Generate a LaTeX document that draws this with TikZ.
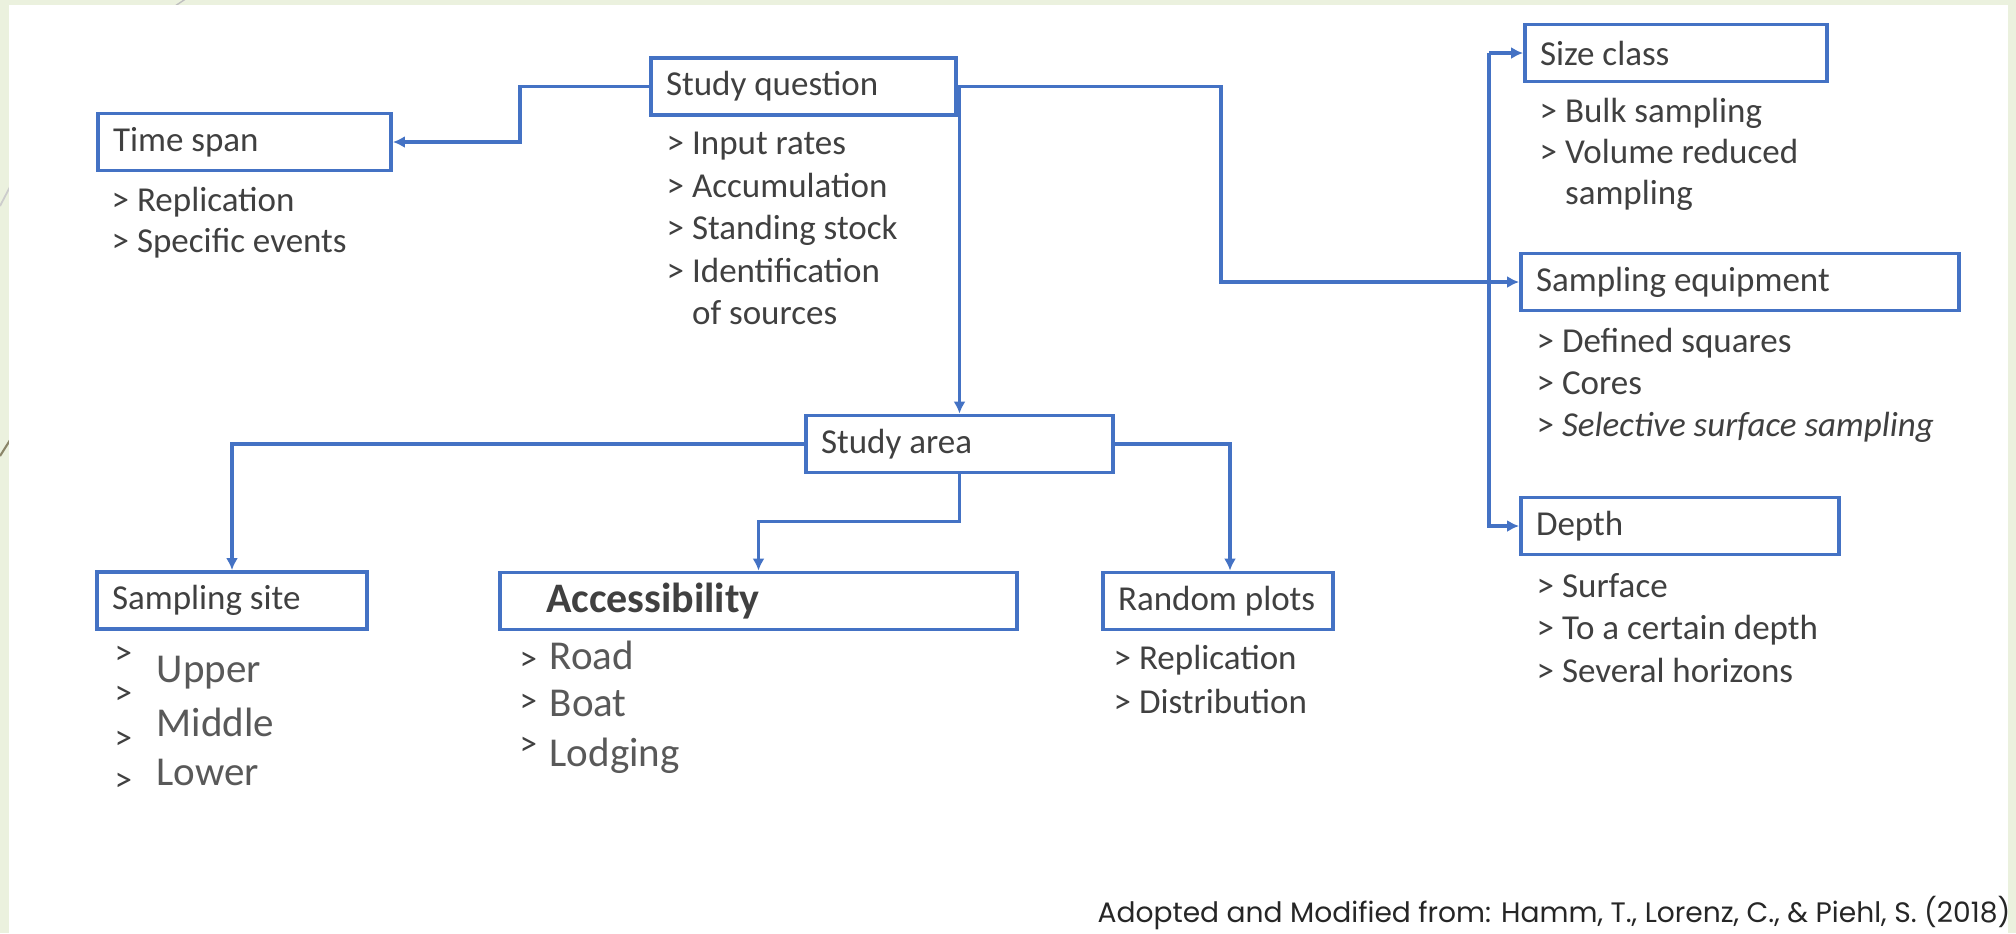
\documentclass[tikz,border=0pt]{standalone}
\usepackage{fontspec}
\setmainfont{Carlito}
\newfontfamily\citefont{Poppins}
\usetikzlibrary{arrows.meta}
\definecolor{lineblue}{HTML}{4472C4}
\definecolor{boxtext}{HTML}{404040}
\definecolor{wordgrey}{HTML}{595959}
\definecolor{slidegreen}{HTML}{EBF1DE}
\definecolor{slideline}{HTML}{8A8568}
\tikzset{>={Latex[length=3.4pt,width=3.4pt]}}
\tikzstyle{box}=[rectangle,draw=lineblue,line width=1.1pt,minimum height=5.7mm,inner xsep=1.5mm,inner ysep=0pt,text=boxtext,font=\fontsize{9.96pt}{12pt}\selectfont]
\tikzstyle{items}=[anchor=west,inner sep=0pt,text=boxtext,align=left]
\tikzstyle{arrowmark}=[anchor=west,inner sep=0pt,text=boxtext,font=\fontsize{9.96pt}{12pt}\selectfont]
\tikzstyle{bigword}=[anchor=west,inner sep=0pt,text=wordgrey,font=\fontsize{11.67pt}{14pt}\selectfont]
\tikzstyle{link}=[draw=lineblue,line width=0.9pt]

\begin{document}
\begin{tikzpicture}[x=0.1mm,y=-0.1mm]
	\useasboundingbox (0,0) rectangle (2016,933);
	% slide background
	\fill[slidegreen] (0,0) rectangle (2016,933);
	\draw[black!25,line width=0.4pt] (190,-4) -- (160,16);
	\draw[black!20,line width=0.5pt] (0,206) -- (12,183);
	\draw[slideline,line width=0.6pt] (0,456) -- (12,437);
	\fill[white] (9,5) rectangle (2008,933);
	
	% boxes
	\node[box] (question) at (803.5,86.5) {\makebox[27.5mm][l]{Study question}};
	\node[box] (timespan) at (244.5,142) {\makebox[26.3mm][l]{Time span}};
	\node[box] (area) at (959.5,444) {\makebox[27.7mm][l]{Study area}};
	\node[box] (site) at (232,600.5) {\makebox[24mm][l]{Sampling site}};
	\node[box,inner xsep=4.6mm,font=\bfseries\fontsize{11.95pt}{14pt}\selectfont] (access) at (758.5,601) {\makebox[42.5mm][l]{Accessibility}};
	\node[box] (plots) at (1218,601) {\makebox[20mm][l]{Random plots}};
	\node[box] (size) at (1676,53) {\makebox[27.2mm][l]{Size class}};
	\node[box] (equip) at (1740,282) {\makebox[40.8mm][l]{Sampling equipment}};
	\node[box] (depth) at (1680,526) {\makebox[28.8mm][l]{Depth}};
	
	% bullet lists
	\node[items,font=\fontsize{9.96pt}{11.67pt}\selectfont] (timelist) at (111,222.5) {> Replication\\> Specific events};
	\node[items,font=\fontsize{9.96pt}{12.09pt}\selectfont] (questionlist) at (666,228.5) {> Input rates\\> Accumulation\\> Standing stock\\> Identification\\\phantom{>\ }of sources};
	\node[items,font=\fontsize{9.96pt}{11.67pt}\selectfont] (sizelist) at (1539,154) {> Bulk sampling\\> Volume reduced\\\phantom{>\ }sampling};
	\node[items,font=\fontsize{9.96pt}{11.95pt}\selectfont] (equiplist) at (1536,385) {> Defined squares\\> Cores\\> \textit{Selective surface sampling}};
	\node[items,font=\fontsize{9.96pt}{12.09pt}\selectfont] (depthlist) at (1536,628) {> Surface\\> To a certain depth\\> Several horizons};
	\node[items,font=\fontsize{9.96pt}{12.5pt}\selectfont] (plotslist) at (1113,679) {> Replication\\> Distribution};
	
	\node[arrowmark] (sitemark1) at (114,655) {>};
	\node[arrowmark] (sitemark2) at (114,695) {>};
	\node[arrowmark] (sitemark3) at (114,740) {>};
	\node[arrowmark] (sitemark4) at (114,782) {>};
	\node[bigword] (upper) at (156,673) {Upper};
	\node[bigword] (middle) at (156,722) {Middle};
	\node[bigword] (lower) at (156,772) {Lower};
	
	\node[arrowmark] (accessmark1) at (519,661) {>};
	\node[arrowmark] (accessmark2) at (519,703) {>};
	\node[arrowmark] (accessmark3) at (519,746) {>};
	\node[bigword] (road) at (549,655) {Road};
	\node[bigword] (boat) at (549,703) {Boat};
	\node[bigword] (lodging) at (549,756) {Lodging};
	
	% connectors
	\draw[link,->] (question.west) -- ++(-129,0) |- (timespan.east);
	\draw[link,->] (question.east -| area.north) -- (area.north);
	\draw[link,->] (question.east) -- ++(263,0) |- (equip.west);
	\coordinate (trunk) at (1489,53);
	\draw[link,->] (trunk) -- (size.west);
	\draw[link,->] (trunk) |- (depth.west);
	\draw[link,->] (area.west) -| (site.north);
	\draw[link,->] (area.south) -- ++(0,47) -| (access.north);
	\draw[link,->] (area.east) -| ([xshift=1.2mm]plots.north);
	
	\node[anchor=east,inner sep=0pt,text=black!85,font=\citefont\fontsize{8pt}{9pt}\selectfont] (source) at (2011,913) {Adopted and Modified from: Hamm, T., Lorenz, C., \& Piehl, S. (2018)};
\end{tikzpicture}
\end{document}
